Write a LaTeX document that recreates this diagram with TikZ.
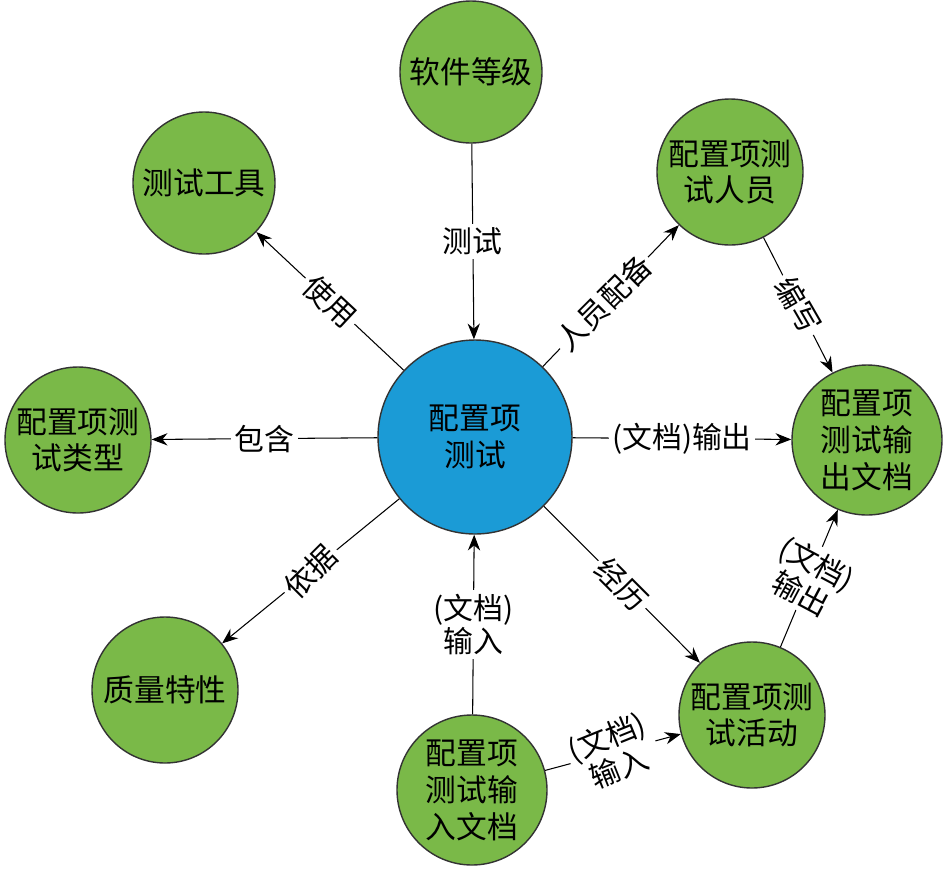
\documentclass[tikz,border=0pt]{standalone}
\usepackage{fontspec}
\setmainfont{Noto Sans CJK SC}
\usetikzlibrary{arrows.meta}
\definecolor{gr}{RGB}{122,185,72}
\definecolor{bl}{RGB}{27,155,214}
\tikzset{
 c/.style={circle,draw=black!80,line width=0.8pt,fill=gr,minimum size=#1*0.02cm,inner sep=0pt,align=center,font=\fontsize{17.5}{21}\selectfont},
 ar/.style={-{Stealth[length=9pt,width=7pt]},line width=0.6pt},
 lb/.style={fill=white,inner sep=2pt,align=center,font=\fontsize{17}{19}\selectfont}
}
\begin{document}
\begin{tikzpicture}[x=0.02cm,y=-0.02cm]
\fill[white] (0,0) rectangle (947,877);
\useasboundingbox (0,0) rectangle (947,877);
\node[c=194,fill=bl] (m) at (475,437) {配置项\\测试};
\node[c=142] (a) at (471,72) {软件等级};
\node[c=142] (b) at (204,183) {测试工具};
\node[c=146] (p) at (730,172) {配置项测\\试人员};
\node[c=146] (t) at (78,440) {配置项测\\试类型};
\node[c=150] (o) at (867,440) {配置项\\测试输\\出文档};
\node[c=146] (q) at (165,690) {质量特性};
\node[c=150] (i) at (472,790) {配置项\\测试输\\入文档};
\node[c=146] (h) at (752,715) {配置项测\\试活动};
\draw[ar] (a) -- node[lb]{测试} (m);
\draw[ar] (m) -- node[lb,rotate=-43]{使用} (b);
\draw[ar] (m) -- node[lb,rotate=45,pos=0.45]{人员配备} (p);
\draw[ar] (m) -- node[lb]{包含} (t);
\draw[ar] (m) -- node[lb]{(文档)输出} (o);
\draw[ar] (m) -- node[lb,rotate=45]{依据} (q);
\draw[ar] (i) -- node[lb]{(文档)\\输入} (m);
\draw[ar] (m) -- node[lb,rotate=-45]{经历} (h);
\draw[ar] (p) -- node[lb,rotate=-60]{编写} (o);
\draw[ar] (i) -- node[lb,rotate=22]{(文档)\\输入} (h);
\draw[ar] (h) -- node[lb,rotate=-28]{(文档)\\输出} (o);
\end{tikzpicture}
\end{document}
